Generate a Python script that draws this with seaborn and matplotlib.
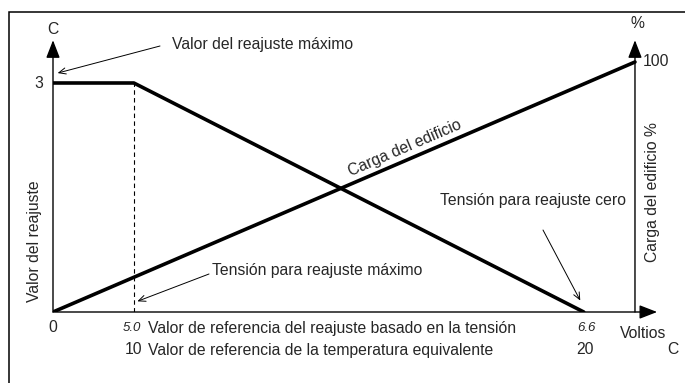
import matplotlib
matplotlib.use('Agg')
import matplotlib.pyplot as plt
import seaborn as sns
import pandas as pd
from matplotlib.patches import Rectangle

# Schematic positions on the voltage axis (drawing is not to scale)
reajuste_x = [0.0, 1.39, 9.12]      # 0 V, 5.0 V, 6.6 V
reajuste_c = [3.0, 3.0, 0.0]        # valor del reajuste (C)
carga_x = [0.0, 10.0]
carga_pct = [0.0, 100.0]            # carga del edificio (%)

volt_labels = ['0', '5.0', '6.6']
temp_labels = ['10', '20']

W, H = 685, 383
sns.set_style('white')
plt.rcParams['font.family'] = ['Liberation Sans', 'DejaVu Sans']

fig = plt.figure(figsize=(W / 100, H / 100), dpi=100)
ax = fig.add_axes([53 / W, 71 / H, 602 / W, 270 / H])
ax.set_xlim(0, 10.344)
ax.set_ylim(0, 3.537)
ax.axis('off')
ax2 = ax.twinx()
ax2.set_ylim(0, 108)
ax2.axis('off')


def fx(px):
    return px / W


def fy(py):
    return 1 - py / H


# frame around the figure
fig.patches.append(Rectangle((fx(9), -0.05), 1.1, fy(12) + 0.05, transform=fig.transFigure,
                             fill=False, lw=1.1, ec='black'))

# curves
df_r = pd.DataFrame({'x': reajuste_x, 'c': reajuste_c})
df_c = pd.DataFrame({'x': carga_x, 'p': carga_pct})
sns.lineplot(data=df_r, x='x', y='c', ax=ax, color='black', lw=2.6, estimator=None)
sns.lineplot(data=df_c, x='x', y='p', ax=ax2, color='black', lw=2.6, estimator=None)
ax.vlines(reajuste_x[1], 0, reajuste_c[1], colors='black', lw=0.8, linestyles=(0, (4, 3)))

# axis arrows
axarrow = dict(arrowstyle='-|>,head_length=0.9,head_width=0.35', color='black', lw=1.0,
               mutation_scale=12, shrinkA=0, shrinkB=0)
ax.annotate('', xy=(0, 3.56), xytext=(0, 0), arrowprops=axarrow, annotation_clip=False)
ax.annotate('', xy=(carga_x[1], 3.56), xytext=(carga_x[1], 0), arrowprops=axarrow, annotation_clip=False)
ax.annotate('', xy=(10.38, 0), xytext=(0, 0), arrowprops=axarrow, annotation_clip=False)

fs = 11.3
fig.text(fx(53), fy(29), 'C', ha='center', va='center', fontsize=fs)
fig.text(fx(637), fy(23), '%', ha='center', va='center', fontsize=fs)
fig.text(fx(43), fy(83), '3', ha='right', va='center', fontsize=fs)
fig.text(fx(643), fy(62), '100', ha='left', va='center', fontsize=fs)

# x labels
fig.text(fx(53), fy(328), volt_labels[0], ha='center', va='center', fontsize=fs)
fig.text(fx(132), fy(328), volt_labels[1], ha='center', va='center', fontsize=9.5, style='italic')
fig.text(fx(148), fy(328), 'Valor de referencia del reajuste basado en la tensión',
         ha='left', va='center', fontsize=fs)
fig.text(fx(586), fy(328), volt_labels[2], ha='center', va='center', fontsize=9.5, style='italic')
fig.text(fx(643), fy(333), 'Voltios', ha='center', va='center', fontsize=fs)
fig.text(fx(134), fy(350), temp_labels[0], ha='center', va='center', fontsize=fs)
fig.text(fx(148), fy(350), 'Valor de referencia de la temperatura equivalente',
         ha='left', va='center', fontsize=fs)
fig.text(fx(585), fy(350), temp_labels[1], ha='center', va='center', fontsize=fs)
fig.text(fx(673), fy(350), 'C', ha='center', va='center', fontsize=fs)

# y labels
fig.text(fx(35), fy(302), 'Valor del reajuste', rotation=90, ha='center', va='bottom', fontsize=fs)
fig.text(fx(653), fy(262), 'Carga del edificio %', rotation=90, ha='center', va='bottom', fontsize=fs)

# label on the load line
fig.text(fx(405), fy(148), 'Carga del edificio', rotation=23.3, rotation_mode='anchor',
         ha='center', va='center', fontsize=fs)

# annotations
thin = dict(arrowstyle='->,head_length=0.5,head_width=0.22', color='black', lw=0.7,
            shrinkA=0, shrinkB=0)
fig.text(fx(172), fy(44), 'Valor del reajuste máximo', ha='left', va='center', fontsize=fs)
ax.annotate('', xy=(0.08, 3.13), xytext=(fx(160), fy(46)), textcoords='figure fraction',
            arrowprops=thin, annotation_clip=False)
fig.text(fx(212), fy(271), 'Tensión para reajuste máximo', ha='left', va='center', fontsize=fs)
ax.annotate('', xy=(reajuste_x[1] + 0.06, 0.14), xytext=(fx(209), fy(274)), textcoords='figure fraction',
            arrowprops=thin, annotation_clip=False)
fig.text(fx(440), fy(200), 'Tensión para reajuste cero', ha='left', va='center', fontsize=fs)
ax.annotate('', xy=(reajuste_x[2] - 0.06, 0.15), xytext=(fx(543), fy(230)), textcoords='figure fraction',
            arrowprops=thin, annotation_clip=False)

fig.savefig('out.png', dpi=100)
